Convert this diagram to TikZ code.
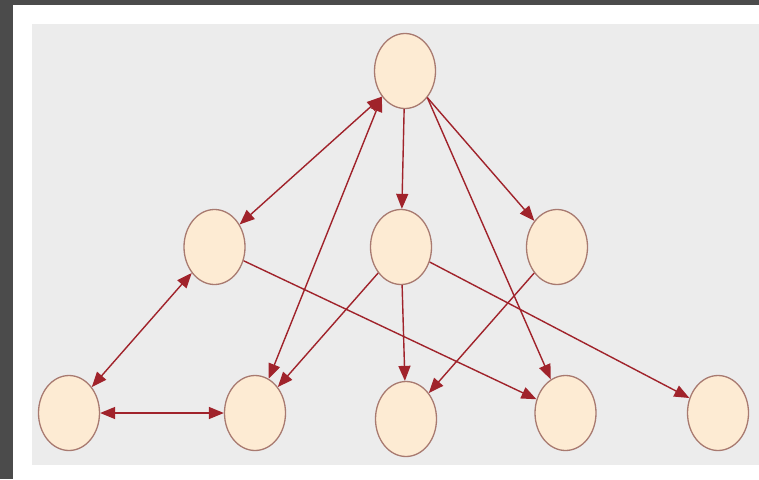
\documentclass[tikz,border=0pt]{standalone}
\usetikzlibrary{shapes.geometric,arrows.meta}
\definecolor{frameg}{HTML}{4B4B4B}
\definecolor{bgg}{HTML}{ECECEC}
\definecolor{nodefill}{HTML}{FDEBD3}
\definecolor{nodeline}{HTML}{A87A70}
\definecolor{edgecol}{HTML}{A0232B}
\tikzset{
  vnode/.style={ellipse, draw=nodeline, fill=nodefill, line width=1.3pt,
    minimum width=61pt, minimum height=75pt, inner sep=0pt},
  link/.style={draw=edgecol, line width=1.4pt,
    -{Triangle[length=15pt,width=12pt]}},
  blink/.style={draw=edgecol, line width=1.4pt,
    {Triangle[length=15pt,width=12pt]}-{Triangle[length=15pt,width=12pt]}}
}
\begin{document}
\begin{tikzpicture}[x=1pt,y=-1pt]
\useasboundingbox (0,0) rectangle (759,479);
\fill[frameg] (0,0) rectangle (759,479);
\fill[white] (13,5) rectangle (759,479);
\fill[bgg] (32,24) rectangle (759,465);
\node[vnode] (T) at (405,71) {};
\node[vnode] (ML) at (214.5,247) {};
\node[vnode] (MC) at (401,247) {};
\node[vnode] (MR) at (557,247) {};
\node[vnode] (B1) at (69,413) {};
\node[vnode] (B2) at (255,413) {};
\node[vnode] (B3) at (406,419) {};
\node[vnode] (B4) at (565.5,413) {};
\node[vnode] (B5) at (718,413) {};
\draw[blink] (T.228) -- (ML);
\draw[blink] (T.228) -- (B2);
\draw[link] (T) -- (MC);
\draw[link] (T.-50) -- (MR);
\draw[link] (T.-50) -- (B4);
\draw[blink] (ML) -- (B1);
\draw[link] (ML) -- (B4);
\draw[link] (MC) -- (B2);
\draw[link] (MC) -- (B3);
\draw[link] (MC) -- (B5);
\draw[link] (MR) -- (B3);
\draw[blink] (B1) -- (B2);
\end{tikzpicture}
\end{document}
